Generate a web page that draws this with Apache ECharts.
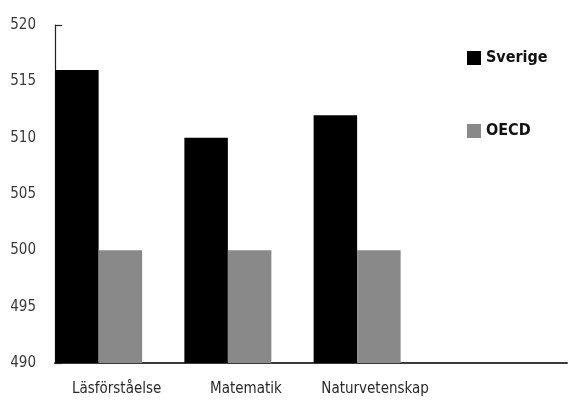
<!DOCTYPE html>
<html>
<head>
<meta charset="utf-8">
<script src="https://cdn.jsdelivr.net/npm/echarts@6/dist/echarts.min.js"></script>
<style>
  html, body { margin: 0; padding: 0; background: #ffffff; }
  #chart { width: 569px; height: 405px; }
</style>
</head>
<body>
<div id="chart"></div>
<script>
// PISA-style comparison: Sweden vs. OECD average per subject
const categories = ['Läsförståelse', 'Matematik', 'Naturvetenskap'];
const sverige = [516, 510, 512];
const oecd = [500, 500, 500];
const yMin = 490;
const yMax = 520;
const yStep = 5;

const FONT = '"DejaVu Sans Condensed", "Liberation Sans Narrow", "DejaVu Sans", sans-serif';

const chart = echarts.init(document.getElementById('chart'), null, { renderer: 'canvas' });

chart.setOption({
  backgroundColor: '#ffffff',
  animation: false,
  legend: {
    orient: 'vertical',
    left: 462,
    top: 45,
    itemWidth: 14,
    itemHeight: 14,
    itemGap: 57,
    icon: 'rect',
    textStyle: { fontFamily: FONT, fontSize: 16, fontWeight: 'bold', color: '#111111' },
    data: ['Sverige', 'OECD']
  },
  grid: [
    // plotting grid for the bars
    { left: 34, width: 387.75, top: 25, bottom: 42 },
    // frame grid carrying the visible axis lines
    { left: 55, right: 2, top: 25, bottom: 42 }
  ],
  xAxis: [
    {
      gridIndex: 0,
      type: 'category',
      data: categories,
      axisLine: { show: false },
      axisTick: { show: false },
      axisLabel: {
        interval: 0,
        hideOverlap: false,
        margin: 19,
        padding: [0, 0, 0, 36],
        fontFamily: FONT,
        fontSize: 15,
        color: '#2a2a2a'
      }
    },
    {
      gridIndex: 1,
      type: 'value',
      min: 0,
      max: 1,
      axisLine: { show: true, lineStyle: { color: '#3a3a3a', width: 2 } },
      axisTick: { show: false },
      axisLabel: { show: false },
      splitLine: { show: false }
    }
  ],
  yAxis: [
    {
      gridIndex: 0,
      type: 'value',
      min: yMin,
      max: yMax,
      interval: yStep,
      show: false
    },
    {
      gridIndex: 1,
      type: 'value',
      min: yMin,
      max: yMax,
      interval: yMax - yMin,
      axisLine: { show: true, lineStyle: { color: '#222222', width: 1.2 } },
      axisTick: { show: true, inside: true, length: 7, lineStyle: { color: '#222222', width: 1.2 } },
      axisLabel: { show: false },
      splitLine: { show: false }
    },
    {
      gridIndex: 1,
      type: 'value',
      position: 'left',
      min: yMin,
      max: yMax,
      interval: yStep,
      axisLine: { show: false },
      axisTick: { show: false },
      axisLabel: {
        margin: 19,
        fontFamily: FONT,
        fontSize: 15,
        color: '#3a3a3a'
      },
      splitLine: { show: false }
    }
  ],
  series: [
    {
      name: 'Sverige',
      type: 'bar',
      xAxisIndex: 0,
      yAxisIndex: 0,
      data: sverige,
      barWidth: 43.5,
      barGap: '0%',
      itemStyle: { color: '#000000' }
    },
    {
      name: 'OECD',
      type: 'bar',
      xAxisIndex: 0,
      yAxisIndex: 0,
      data: oecd,
      barWidth: 43.5,
      barGap: '0%',
      itemStyle: { color: '#898989' }
    }
  ]
});
</script>
</body>
</html>
